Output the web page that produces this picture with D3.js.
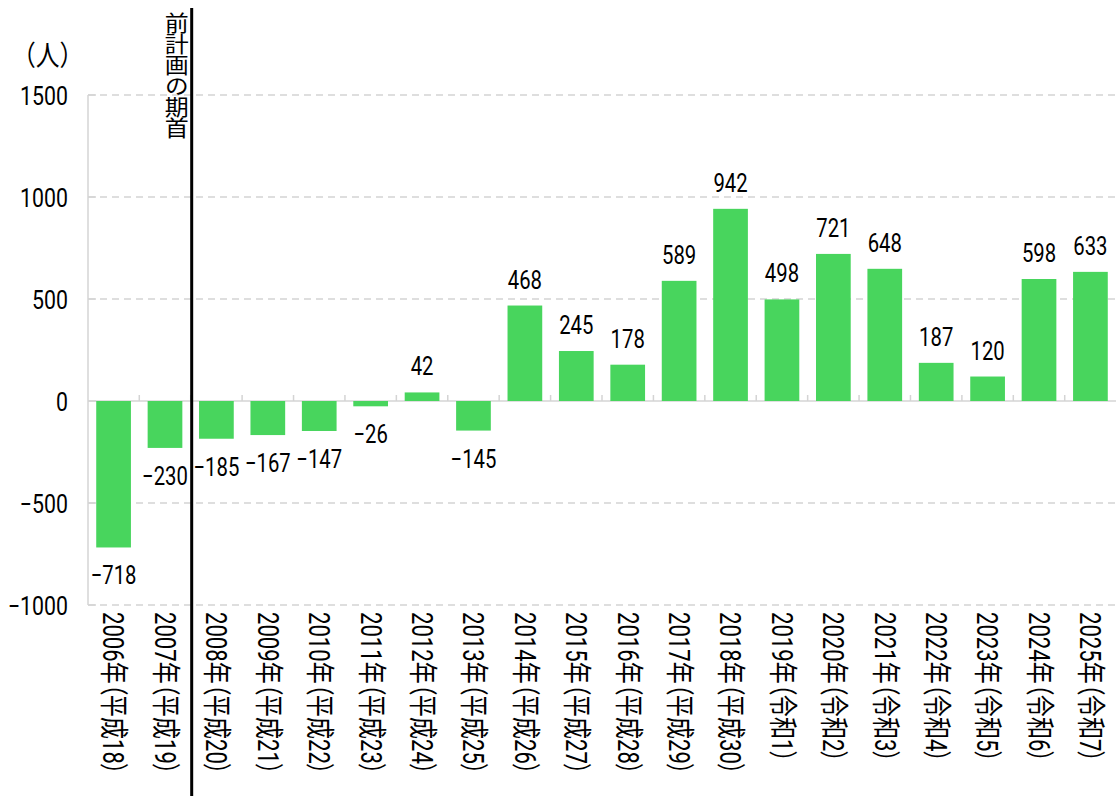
<!DOCTYPE html>
<html><head><meta charset="utf-8">
<script src="https://cdn.jsdelivr.net/npm/d3@7"></script>
<style>
body{margin:0;background:#fff;}
text{font-family:"Roboto","Noto Sans CJK JP",sans-serif;fill:#000;}
text.xl{font-feature-settings:"palt" 1;}
</style></head>
<body><svg id="c" width="1116" height="796"></svg>
<script>
const years = ["2006年（平成18）","2007年（平成19）","2008年（平成20）","2009年（平成21）","2010年（平成22）","2011年（平成23）","2012年（平成24）","2013年（平成25）","2014年（平成26）","2015年（平成27）","2016年（平成28）","2017年（平成29）","2018年（平成30）","2019年（令和1）","2020年（令和2）","2021年（令和3）","2022年（令和4）","2023年（令和5）","2024年（令和6）","2025年（令和7）"];
const values = [-718,-230,-185,-167,-147,-26,42,-145,468,245,178,589,942,498,721,648,187,120,598,633];
const yTicks = [-1000,-500,0,500,1000,1500];
const unitLabel = "（人）";
const markerLabel = "前計画の期首";
const markerIndex = 2;

const svg = d3.select("#c");
const x = d3.scaleBand().domain(years).range([88,1116]).paddingInner(0.325).paddingOuter(0.16);
const y = d3.scaleLinear().domain([-1000,1500]).range([605,95]);
const green = "#48d55d";
const fmt = v => v < 0 ? "\u2212" + Math.abs(v) : String(v);

// gridlines
svg.append("g").selectAll("line").data(yTicks.filter(d=>d!==0)).join("line")
  .attr("x1",88).attr("x2",1116).attr("y1",d=>y(d)).attr("y2",d=>y(d))
  .attr("stroke","#d4d4d4").attr("stroke-width",1.5).attr("stroke-dasharray","7,5");
svg.append("g").selectAll("line").data(yTicks).join("line")
  .attr("x1",88).attr("x2",96).attr("y1",d=>y(d)).attr("y2",d=>y(d))
  .attr("stroke","#d4d4d4").attr("stroke-width",1.5);
// y axis line
svg.append("line").attr("x1",88).attr("x2",88).attr("y1",y(1500)).attr("y2",y(-1000))
  .attr("stroke","#d4d4d4").attr("stroke-width",1.5);
// zero line
svg.append("line").attr("x1",88).attr("x2",1116).attr("y1",y(0)).attr("y2",y(0))
  .attr("stroke","#d4d4d4").attr("stroke-width",1.5);
// category ticks
const step = x.step();
svg.append("g").selectAll("line").data(years.slice(1)).join("line")
  .attr("x1",d=>x(d)-x.paddingInner()*step/2).attr("x2",d=>x(d)-x.paddingInner()*step/2)
  .attr("y1",y(0)-6).attr("y2",y(0))
  .attr("stroke","#d4d4d4").attr("stroke-width",1.5);

// bars
svg.append("g").selectAll("rect").data(values).join("rect")
  .attr("x",(d,i)=>x(years[i])).attr("width",x.bandwidth())
  .attr("y",d=>y(Math.max(0,d))).attr("height",d=>Math.abs(y(d)-y(0)))
  .attr("fill",green);

// value labels
svg.append("g").selectAll("text").data(values).join("text")
  .attr("transform",(d,i)=>`translate(${x(years[i])+x.bandwidth()/2},${d>=0?y(d)-17:y(d)+37}) scale(0.78,1)`)
  .attr("text-anchor","middle").attr("font-size",26).text(d=>fmt(d));

// y labels
svg.append("g").selectAll("text").data(yTicks).join("text")
  .attr("transform",d=>`translate(68,${y(d)+9.5}) scale(0.82,1)`)
  .attr("text-anchor","end").attr("font-size",26).text(d=>d<0?"\u2212"+Math.abs(d):d);

// unit
svg.append("text").attr("transform","translate(12,66) scale(0.85,1)")
  .attr("font-size",28).text(unitLabel);

// x labels
const xl = svg.append("g").selectAll("text").data(years).join("text")
  .attr("class","xl").attr("font-size",29).attr("dominant-baseline","central").text(d=>d);
const natural = xl.nodes()[0].getComputedTextLength();
const sx = 163/natural;
xl.attr("transform",d=>`translate(${x(d)+x.bandwidth()/2},612) rotate(90) scale(${sx},1)`);

// marker line
const mx = x(years[markerIndex]) - x.paddingInner()*step/2 + 1;
svg.append("line").attr("x1",mx).attr("x2",mx).attr("y1",8).attr("y2",796)
  .attr("stroke","#000").attr("stroke-width",3);
svg.append("text").attr("transform",`translate(${mx-17},12) scale(1,0.88)`)
  .attr("font-size",24).style("writing-mode","vertical-rl").text(markerLabel);
</script></body></html>
